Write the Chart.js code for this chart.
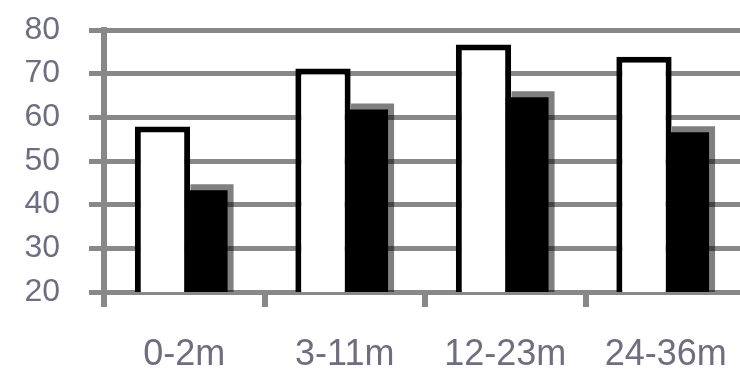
<!DOCTYPE html>
<html>
<head>
<meta charset="utf-8">
<script src="https://cdn.jsdelivr.net/npm/chart.js@4/dist/chart.umd.min.js"></script>
<style>
  html, body { margin: 0; padding: 0; background: #ffffff; overflow: hidden; width: 740px; height: 372px; }
  #wrap { position: absolute; left: 0; top: 0; width: 760px; height: 372px; }
</style>
</head>
<body>
<div id="wrap"><canvas id="c" width="760" height="372"></canvas></div>
<script>
// ---- data ----
const categories = ['0-2m', '3-11m', '12-23m', '24-36m'];
const seriesWhite = [57.9, 71.2, 76.7, 73.9];
const seriesBlack = [43.3, 61.8, 64.6, 56.6];
const yMin = 20;
const yMax = 80;
const yStep = 10;

const GRID = '#888888';
const TEXT = '#6e6e80';
const FONT_Y = { family: "'Liberation Sans', Arial, sans-serif", size: 32 };
const FONT_X = { family: "'Liberation Sans', Arial, sans-serif", size: 36 };

const shadowPlugin = {
  id: 'barShadow',
  beforeDatasetDraw(chart, args) {
    if (args.index === 1) {
      const c = chart.ctx;
      c.save();
      c.shadowColor = 'rgba(0,0,0,0.5)';
      c.shadowOffsetX = 6;
      c.shadowOffsetY = -6;
      c.shadowBlur = 0;
    }
  },
  afterDatasetDraw(chart, args) {
    if (args.index === 1) chart.ctx.restore();
  }
};

new Chart(document.getElementById('c'), {
  type: 'bar',
  data: {
    labels: categories,
    datasets: [
      {
        label: 'A',
        data: seriesWhite,
        backgroundColor: '#ffffff',
        borderColor: '#000000',
        borderWidth: 6,
        borderSkipped: 'start',
        barPercentage: 1.27,
        categoryPercentage: 0.5424
      },
      {
        label: 'B',
        data: seriesBlack,
        backgroundColor: '#000000',
        borderWidth: 0,
        barPercentage: 0.99,
        categoryPercentage: 0.5424
      }
    ]
  },
  options: {
    responsive: false,
    animation: false,
    events: [],
    layout: { padding: { left: 0, right: 14, top: 30, bottom: 0 } },
    plugins: { legend: { display: false }, tooltip: { enabled: false } },
    scales: {
      x: {
        z: 1,
        offset: true,
        grid: { display: true, drawOnChartArea: false, drawTicks: true, tickLength: 15, color: GRID, lineWidth: 6, offset: true },
        border: { display: true, color: GRID, width: 5 },
        ticks: { color: TEXT, font: FONT_X, padding: 26, maxRotation: 0, autoSkip: false },
        afterFit(s) { s.height = 80; s.paddingLeft = 0; s.paddingRight = 0; }
      },
      y: {
        min: yMin,
        max: yMax,
        ticks: { stepSize: yStep, color: TEXT, font: FONT_Y, padding: 29, autoSkip: false },
        grid: { color: GRID, lineWidth: 5, tickLength: 15, drawTicks: true },
        border: { display: true, color: GRID, width: 6 },
        afterFit(s) { s.width = 104; s.paddingTop = 0; s.paddingBottom = 0; }
      }
    }
  },
  plugins: [shadowPlugin]
});
</script>
</body>
</html>
